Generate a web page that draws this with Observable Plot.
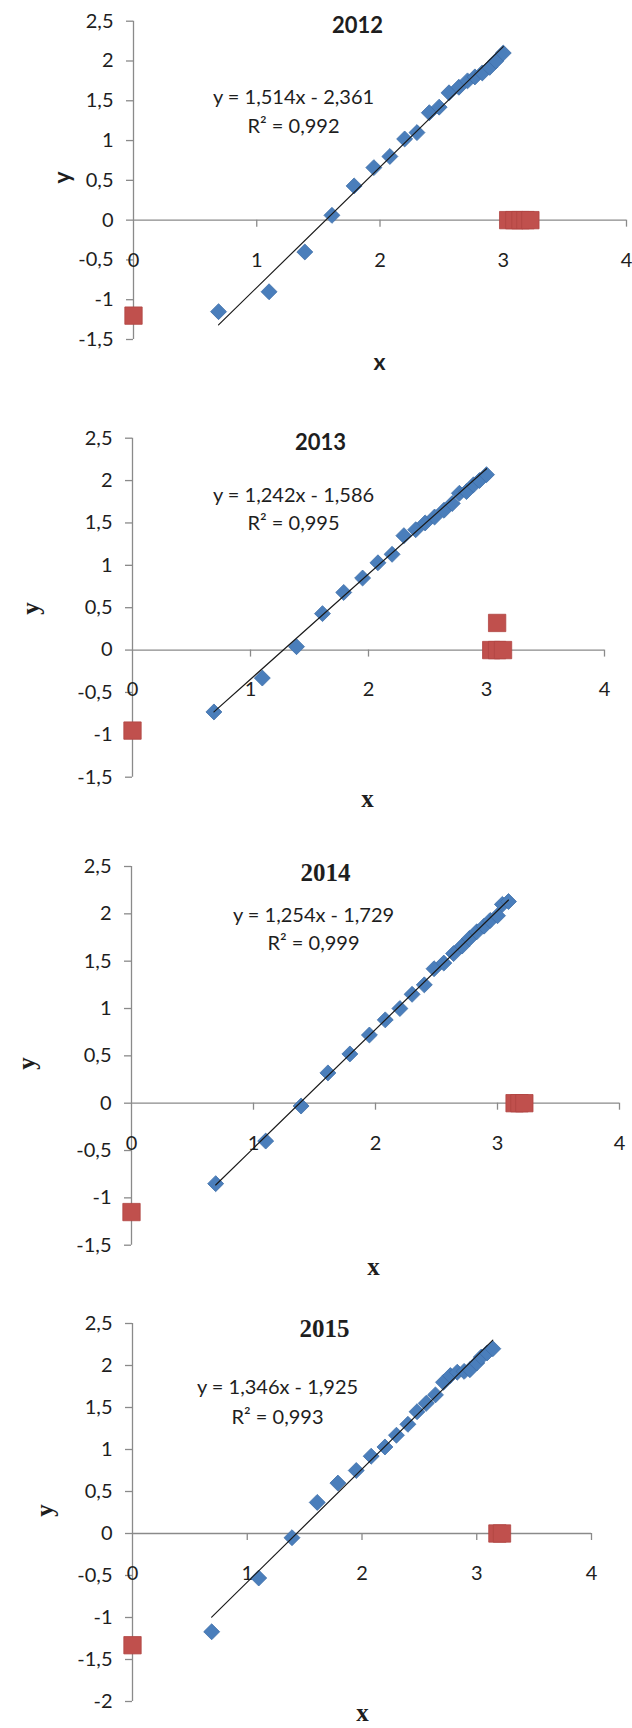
<!DOCTYPE html>
<html>
<head>
<meta charset="utf-8">
<script src="https://cdn.jsdelivr.net/npm/d3@7"></script>
<script src="https://cdn.jsdelivr.net/npm/@observablehq/plot@0.6"></script>
<style>
  body { margin: 0; background: #ffffff; }
  #chart svg { display: block; }
</style>
</head>
<body>
<div id="chart"></div>
<script>
// ---------- data ----------
const years = ["2012", "2013", "2014", "2015"];
const equations = ["y = 1,514x - 2,361", "y = 1,242x - 1,586", "y = 1,254x - 1,729", "y = 1,346x - 1,925"];
const r2Labels = ["R² = 0,992", "R² = 0,995", "R² = 0,999", "R² = 0,993"];
const slopes = [1.514, 1.242, 1.254, 1.346];
const intercepts = [-2.361, -1.586, -1.729, -1.925];

const xTicks = [0, 1, 2, 3, 4];
const yTicksA = [2.5, 2, 1.5, 1, 0.5, 0, -0.5, -1, -1.5];
const yTicksB = [2.5, 2, 1.5, 1, 0.5, 0, -0.5, -1, -1.5, -2];
const yMin = [-1.5, -1.5, -1.5, -2];

const blueX2012 = [0.69, 1.10, 1.39, 1.61, 1.79, 1.95, 2.08, 2.20, 2.30, 2.40, 2.48, 2.56, 2.64, 2.71, 2.77, 2.83, 2.89, 2.94, 3.00];
const blueY2012 = [-1.15, -0.90, -0.40, 0.06, 0.43, 0.66, 0.80, 1.02, 1.10, 1.35, 1.42, 1.60, 1.67, 1.75, 1.80, 1.85, 1.92, 2.00, 2.10];
const redX2012 = [0, 3.04, 3.09, 3.14, 3.18, 3.22];
const redY2012 = [-1.2, 0, 0, 0, 0, 0];

const blueX2013 = [0.69, 1.10, 1.39, 1.61, 1.79, 1.95, 2.08, 2.20, 2.30, 2.40, 2.48, 2.56, 2.64, 2.71, 2.77, 2.83, 2.89, 2.94, 3.00];
const blueY2013 = [-0.73, -0.33, 0.04, 0.43, 0.68, 0.85, 1.03, 1.13, 1.35, 1.42, 1.50, 1.57, 1.65, 1.73, 1.85, 1.87, 1.95, 2.00, 2.07];
const redX2013 = [0, 3.04, 3.09, 3.14, 3.09];
const redY2013 = [-0.95, 0, 0, 0, 0.32];

const blueX2014 = [0.69, 1.10, 1.39, 1.61, 1.79, 1.95, 2.08, 2.20, 2.30, 2.40, 2.48, 2.56, 2.64, 2.71, 2.77, 2.83, 2.89, 2.94, 3.00, 3.04, 3.09];
const blueY2014 = [-0.85, -0.40, -0.03, 0.32, 0.52, 0.72, 0.88, 1.00, 1.15, 1.25, 1.42, 1.48, 1.58, 1.66, 1.74, 1.81, 1.87, 1.93, 1.98, 2.10, 2.13];
const redX2014 = [0, 3.14, 3.18, 3.22];
const redY2014 = [-1.15, 0, 0, 0];

const blueX2015 = [0.69, 1.10, 1.39, 1.61, 1.79, 1.95, 2.08, 2.20, 2.30, 2.40, 2.48, 2.56, 2.64, 2.71, 2.77, 2.83, 2.89, 2.94, 3.00, 3.04, 3.09, 3.14];
const blueY2015 = [-1.17, -0.53, -0.05, 0.37, 0.60, 0.75, 0.92, 1.03, 1.17, 1.30, 1.45, 1.55, 1.65, 1.80, 1.88, 1.92, 1.93, 1.95, 2.03, 2.10, 2.15, 2.20];
const redX2015 = [0, 3.18, 3.22];
const redY2015 = [-1.33, 0, 0];

const blueXs = [blueX2012, blueX2013, blueX2014, blueX2015];
const blueYs = [blueY2012, blueY2013, blueY2014, blueY2015];
const redXs = [redX2012, redX2013, redX2014, redX2015];
const redYs = [redY2012, redY2013, redY2014, redY2015];
const yTickSets = [yTicksA, yTicksA, yTicksA, yTicksB];

// ---------- layout / style ----------
const SANS = "Lato, 'Open Sans', sans-serif";
const SERIF = "'Liberation Serif', 'DejaVu Serif', serif";
const layout = [
  {h: 400, mt: 20.7, mb: 61, mr: 6, ml: 133, titleX: 357, titleY: 25, titleFont: SANS, titleSize: 22,
   eqX: 293, eqY: 97, r2Y: 126, xlX: 379, xlY: 362, ylX: 62, ylY: 177, labFont: SANS, labSize: 23},
  {h: 430, mt: 37.7, mb: 53.3, mr: 28, ml: 132, titleX: 320, titleY: 42, titleFont: SANS, titleSize: 22,
   eqX: 293, eqY: 95, r2Y: 123, xlX: 367, xlY: 398, ylX: 30, ylY: 208, labFont: SERIF, labSize: 25},
  {h: 455, mt: 36, mb: 40.3, mr: 13, ml: 131, titleX: 325, titleY: 42, titleFont: SERIF, titleSize: 25,
   eqX: 313, eqY: 85, r2Y: 113, xlX: 373, xlY: 436, ylX: 26, ylY: 233, labFont: SERIF, labSize: 25},
  {h: 443, mt: 38, mb: 27, mr: 41, ml: 132, titleX: 324, titleY: 43, titleFont: SERIF, titleSize: 25,
   eqX: 277, eqY: 102, r2Y: 132, xlX: 362, xlY: 427, ylX: 44, ylY: 225, labFont: SERIF, labSize: 25}
];
const AXIS = "#8a8a8a";
const TEXT = "#1e1e1e";
const BLUE = "#4a7ebb";
const RED = "#c0504d";

const fmt = d => String(d).replace(".", ",");

function panel(i) {
  const L = layout[i];
  const blue = blueXs[i].map((x, k) => ({x, y: blueYs[i][k]}));
  const red = redXs[i].map((x, k) => ({x, y: redYs[i][k]}));
  const ext = d3.extent(blueXs[i]);
  const fit = ext.map(x => ({x, y: slopes[i] * x + intercepts[i]}));
  const at = (px, py) => ({frameAnchor: "top-left", dx: px - L.ml, dy: py - L.mt});
  return Plot.plot({
    width: 632,
    height: L.h,
    marginLeft: L.ml,
    marginRight: L.mr,
    marginTop: L.mt,
    marginBottom: L.mb,
    x: {domain: [0, 4], axis: null},
    y: {domain: [yMin[i], 2.5], axis: null},
    style: {fontFamily: SANS, background: "#ffffff", overflow: "visible"},
    marks: [
      // y axis
      Plot.ruleX([0], {stroke: AXIS, strokeWidth: 1.3}),
      Plot.ruleY(yTickSets[i], {x1: 0, x2: 0, insetLeft: -7, stroke: AXIS, strokeWidth: 1.3}),
      Plot.text(yTickSets[i], {x: 0, y: d => d, text: fmt, textAnchor: "end", dx: -20, fontSize: 20, fill: TEXT, fontFamily: SANS}),
      // x axis at y = 0
      Plot.ruleY([0], {x1: 0, x2: 4, stroke: AXIS, strokeWidth: 1.3}),
      Plot.ruleX(xTicks.slice(1), {y1: 0, y2: 0, insetBottom: -7, stroke: AXIS, strokeWidth: 1.3}),
      Plot.text(xTicks, {x: d => d, y: 0, dy: 40, text: fmt, fontSize: 20, fill: TEXT, fontFamily: SANS}),
      // series
      Plot.dot(blue, {x: "x", y: "y", symbol: "diamond2", r: 7.2, fill: BLUE, stroke: "#3f6fa8", strokeWidth: 0.8}),
      Plot.dot(red, {x: "x", y: "y", symbol: "square", r: 9.8, fill: RED, stroke: "#b04542", strokeWidth: 0.8}),
      Plot.line(fit, {x: "x", y: "y", stroke: "#1a1a1a", strokeWidth: 1.2}),
      // texts
      Plot.text([years[i]], {...at(L.titleX, L.titleY), text: d => d, textAnchor: "middle", lineAnchor: "middle",
        fontSize: L.titleSize, fontWeight: "bold", fontFamily: L.titleFont, fill: TEXT}),
      Plot.text([equations[i]], {...at(L.eqX, L.eqY), text: d => d, textAnchor: "middle", lineAnchor: "middle",
        fontSize: 20, fontFamily: SANS, fill: TEXT}),
      Plot.text([r2Labels[i]], {...at(L.eqX, L.r2Y), text: d => d, textAnchor: "middle", lineAnchor: "middle",
        fontSize: 20, fontFamily: SANS, fill: TEXT}),
      Plot.text(["x"], {...at(L.xlX, L.xlY), text: d => d, textAnchor: "middle", lineAnchor: "middle",
        fontSize: L.labSize, fontWeight: "bold", fontFamily: L.labFont, fill: TEXT}),
      Plot.text(["y"], {...at(L.ylX, L.ylY), text: d => d, textAnchor: "middle", lineAnchor: "middle", rotate: -90,
        fontSize: L.labSize, fontWeight: "bold", fontFamily: L.labFont, fill: TEXT})
    ]
  });
}

const root = document.getElementById("chart");
for (let i = 0; i < years.length; i++) root.appendChild(panel(i));
</script>
</body>
</html>
